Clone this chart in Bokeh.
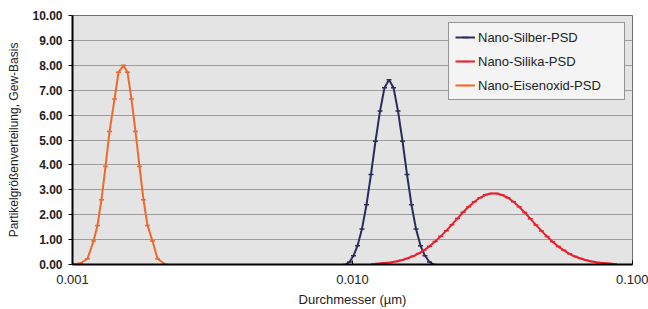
from bokeh.plotting import figure
from bokeh.models import FixedTicker, PrintfTickFormatter, Legend, LegendItem
from bokeh.embed import file_html
from bokeh.resources import INLINE

# ---- data ----
silber_x = [0.009441, 0.009757, 0.01008, 0.01042, 0.01081, 0.01122, 0.01164, 0.01208,
            0.01254, 0.01301, 0.01350, 0.01401, 0.01454, 0.01509, 0.01566, 0.01624,
            0.01686, 0.01750, 0.01815, 0.01884, 0.01955]
silber_y = [0.0, 0.10, 0.35, 0.75, 1.43, 2.40, 3.61, 4.95, 6.16, 7.10, 7.42, 7.10,
            6.16, 4.95, 3.61, 2.40, 1.43, 0.75, 0.35, 0.10, 0.0]

silika_x = [0.01189, 0.01245, 0.01303, 0.01365, 0.01429, 0.01496, 0.01567, 0.01641,
            0.01718, 0.01799, 0.01884, 0.01972, 0.02065, 0.02163, 0.02265, 0.02371,
            0.02483, 0.02600, 0.02723, 0.02851, 0.02985, 0.03126, 0.03273, 0.03428,
            0.03589, 0.03758, 0.03936, 0.04121, 0.04315, 0.04519, 0.04732, 0.04955,
            0.05188, 0.05433, 0.05689, 0.05957, 0.06237, 0.06531, 0.06839, 0.07161,
            0.07499, 0.07852, 0.08222, 0.08610]
silika_y = [0.02, 0.04, 0.06, 0.08, 0.12, 0.17, 0.24, 0.33, 0.44, 0.57, 0.73, 0.92,
            1.13, 1.36, 1.60, 1.85, 2.10, 2.32, 2.52, 2.68, 2.80, 2.85, 2.85, 2.79,
            2.68, 2.52, 2.32, 2.09, 1.84, 1.59, 1.35, 1.12, 0.91, 0.72, 0.57, 0.43,
            0.32, 0.24, 0.17, 0.12, 0.08, 0.06, 0.04, 0.02]

eisen_x = [0.001000, 0.001068, 0.001131, 0.001189, 0.001228, 0.001269, 0.001312,
           0.001356, 0.001413, 0.001460, 0.001521, 0.001572, 0.001624, 0.001679,
           0.001735, 0.001793, 0.001853, 0.001931, 0.002012, 0.002148]
eisen_y = [0.0, 0.05, 0.23, 0.94, 1.57, 2.60, 3.94, 5.34, 6.65, 7.72, 8.00, 7.72,
           6.65, 5.34, 3.94, 2.60, 1.57, 0.94, 0.23, 0.0]

x_ticks = [0.001, 0.01, 0.1]
y_ticks = [0, 1, 2, 3, 4, 5, 6, 7, 8, 9, 10]

names = ["Nano-Silber-PSD", "Nano-Silika-PSD", "Nano-Eisenoxid-PSD"]
colors = ["#2c2c5c", "#e8202c", "#f0692c"]

p = figure(width=648, height=309, x_axis_type="log",
           x_range=(0.001, 0.1), y_range=(0, 10),
           output_backend="svg", toolbar_location=None,
           min_border_left=72, min_border_right=16,
           min_border_top=15, min_border_bottom=45)

p.background_fill_color = "#e4e4e4"
p.border_fill_color = "white"
p.outline_line_color = "#707070"
p.outline_line_width = 1

p.xgrid.visible = False
p.ygrid.ticker = FixedTicker(ticks=y_ticks)
p.ygrid.grid_line_color = "#9c9c9c"
p.ygrid.grid_line_width = 1

# axes
p.xaxis.ticker = FixedTicker(ticks=x_ticks)
p.xaxis.formatter = PrintfTickFormatter(format="%.3f")
p.xaxis.major_tick_in = 4
p.xaxis.major_tick_out = 0
p.xaxis.minor_tick_line_color = None
p.xaxis.axis_line_width = 2
p.xaxis.axis_line_color = "black"
p.xaxis.major_label_text_font = "Liberation Sans"
p.xaxis.major_label_text_font_size = "13px"
p.xaxis.major_label_text_color = "#222222"
p.xaxis.major_label_standoff = 10
p.xaxis.axis_label = "Durchmesser (µm)"
p.xaxis.axis_label_text_font = "Liberation Sans"
p.xaxis.axis_label_text_font_size = "13px"
p.xaxis.axis_label_text_font_style = "normal"
p.xaxis.axis_label_text_color = "#222222"
p.xaxis.axis_label_standoff = 5

p.yaxis.ticker = FixedTicker(ticks=y_ticks)
p.yaxis.formatter = PrintfTickFormatter(format="%.2f")
p.yaxis.major_tick_in = 0
p.yaxis.major_tick_out = 4
p.yaxis.minor_tick_line_color = None
p.yaxis.axis_line_width = 2
p.yaxis.axis_line_color = "black"
p.yaxis.major_label_text_font = "Liberation Sans"
p.yaxis.major_label_text_font_size = "12px"
p.yaxis.major_label_text_font_style = "bold"
p.yaxis.major_label_text_color = "#222222"
p.yaxis.major_label_standoff = 6
p.yaxis.axis_label = "Partikelgrößenverteilung, Gew-Basis"
p.yaxis.axis_label_text_font = "Liberation Sans"
p.yaxis.axis_label_text_font_size = "12px"
p.yaxis.axis_label_text_font_style = "normal"
p.yaxis.axis_label_text_color = "#222222"
p.yaxis.axis_label_standoff = 8

items = []
for xs, ys, name, col in [(silber_x, silber_y, names[0], colors[0]),
                          (silika_x, silika_y, names[1], colors[1]),
                          (eisen_x, eisen_y, names[2], colors[2])]:
    r1 = p.line(xs, ys, line_color=col, line_width=2)
    r2 = p.scatter(xs, ys, marker="dash", size=5, line_color=col, line_width=1.5)
    items.append(LegendItem(label=name, renderers=[r1, r2]))

legend = Legend(items=items, location="top_right", margin=7, padding=6,
                spacing=8, glyph_height=16, label_height=16, glyph_width=20,
                label_standoff=3, label_width=140,
                label_text_font="Liberation Sans", label_text_font_size="13px",
                label_text_color="#222222",
                background_fill_color="#f4f4f4", background_fill_alpha=1.0,
                border_line_color="#333333", border_line_width=1)
p.add_layout(legend)

open("out.html", "w").write(file_html(p, INLINE))
